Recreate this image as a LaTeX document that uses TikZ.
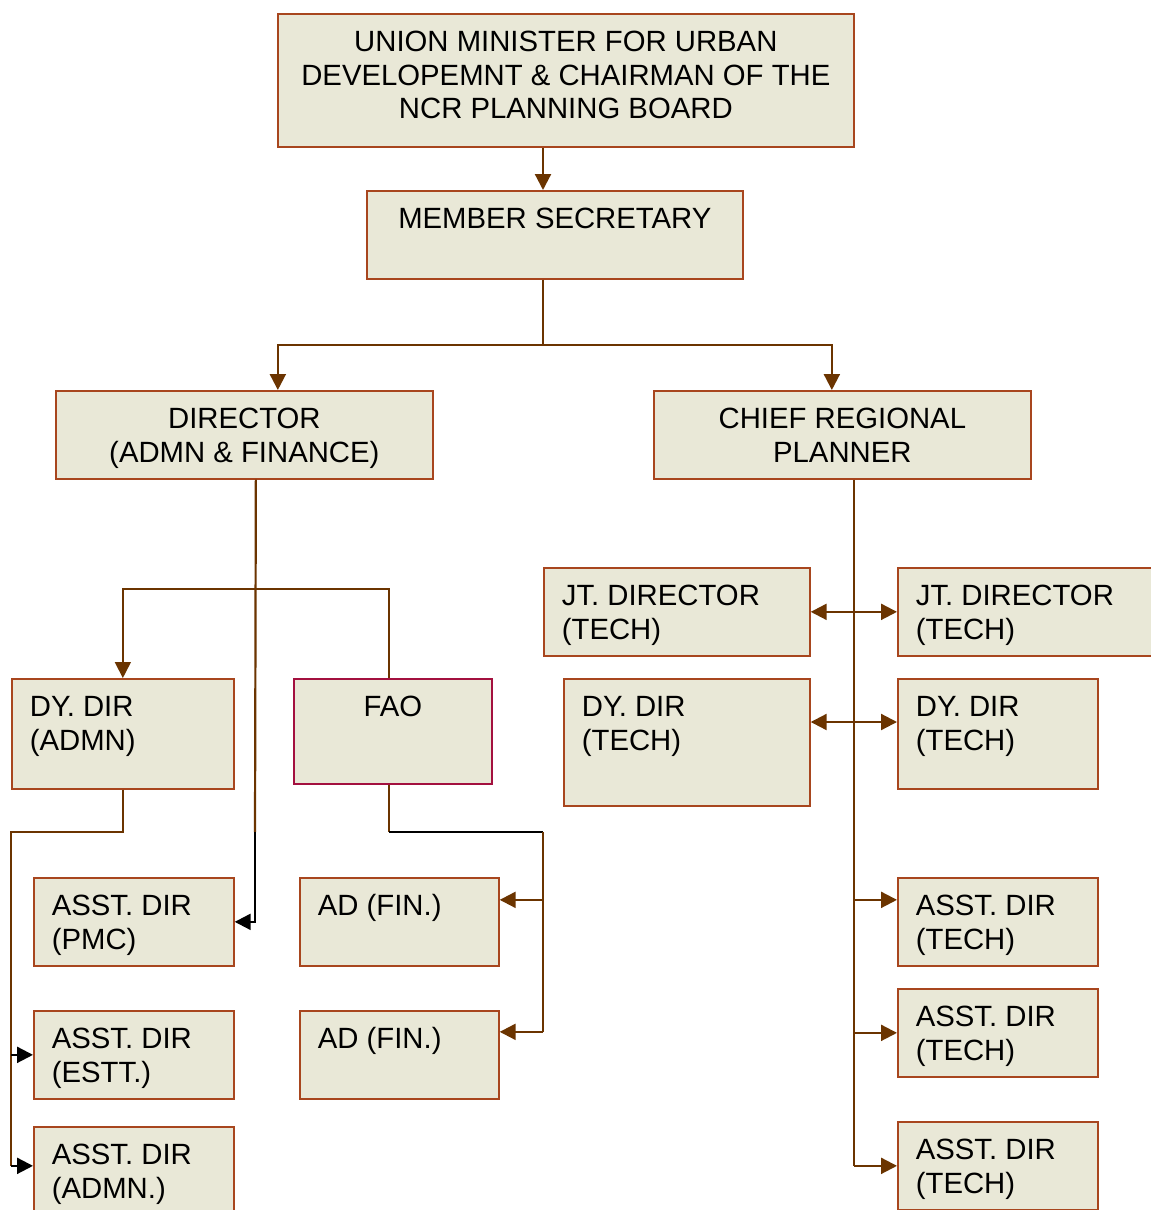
\documentclass[tikz,border=0pt]{standalone}
\usepackage{fontspec}
\setmainfont{Liberation Sans}
\usetikzlibrary{arrows.meta,calc}
\definecolor{boxfill}{HTML}{E9E8D7}
\definecolor{boxline}{HTML}{A8461E}
\definecolor{faoline}{HTML}{A3103F}
\definecolor{linkbrown}{HTML}{6B3400}
% box texts: width, height, lines
\newcommand{\cellL}[3]{\parbox[c][#2pt][t]{#1pt}{\raggedright\leftskip=18pt\rule{0pt}{37.5pt}#3}}
\newcommand{\cellC}[3]{\parbox[c][#2pt][t]{#1pt}{\centering\rule{0pt}{37.5pt}#3}}
\tikzset{
  orgbox/.style={draw=boxline, fill=boxfill, line width=1.7pt, inner sep=0pt, anchor=north west,
    font=\fontsize{29.3}{33.7}\selectfont},
  faobox/.style={orgbox, draw=faoline},
  link/.style={draw=linkbrown, line width=2.2pt},
  blackline/.style={draw=black, line width=2.2pt},
  tipped/.style={-{Triangle[length=16pt,width=16pt]}},
  bothtipped/.style={{Triangle[length=16pt,width=16pt]}-{Triangle[length=16pt,width=16pt]}}
}
\begin{document}
\begin{tikzpicture}[x=1pt,y=-1pt]
\useasboundingbox (0,0) rectangle (1151,1210);
\fill[white] (0,0) rectangle (1151,1210);
\clip (0,0) rectangle (1151,1210);
% boxes
\node[orgbox] (minister) at (277,13) {\cellC{576}{133}{UNION MINISTER FOR URBAN\\DEVELOPEMNT \& CHAIRMAN OF THE\\NCR PLANNING BOARD}};
\node[orgbox] (secretary) at (366,190) {\cellC{376}{88}{MEMBER SECRETARY}};
\node[orgbox] (director) at (55,390) {\cellC{377}{88}{DIRECTOR\\(ADMN \& FINANCE)}};
\node[orgbox] (crp) at (653,390) {\cellC{377}{88}{CHIEF REGIONAL\\PLANNER}};
\node[orgbox] (jtleft) at (543,567) {\cellL{266}{88}{JT. DIRECTOR\\(TECH)}};
\node[orgbox] (jtright) at (897,567) {\cellL{266}{88}{JT. DIRECTOR\\(TECH)}};
\node[orgbox] (dyadmn) at (11,678) {\cellL{222}{110}{DY. DIR\\(ADMN)}};
\node[faobox] (fao) at (293,678) {\cellC{198}{105}{FAO}};
\node[orgbox] (dytechleft) at (563,678) {\cellL{246}{127}{DY. DIR\\(TECH)}};
\node[orgbox] (dytechright) at (897,678) {\cellL{200}{110}{DY. DIR\\(TECH)}};
\node[orgbox] (adpmc) at (33,877) {\cellL{200}{88}{ASST. DIR\\(PMC)}};
\node[orgbox] (adfinA) at (299,877) {\cellL{199}{88}{AD (FIN.)}};
\node[orgbox] (adtechA) at (897,877) {\cellL{200}{88}{ASST. DIR\\(TECH)}};
\node[orgbox] (adestt) at (33,1010) {\cellL{200}{88}{ASST. DIR\\(ESTT.)}};
\node[orgbox] (adfinB) at (299,1010) {\cellL{199}{88}{AD (FIN.)}};
\node[orgbox] (adtechB) at (897,988) {\cellL{200}{88}{ASST. DIR\\(TECH)}};
\node[orgbox] (adadmn) at (33,1126) {\cellL{200}{88}{ASST. DIR\\(ADMN.)}};
\node[orgbox] (adtechC) at (897,1121) {\cellL{200}{88}{ASST. DIR\\(TECH)}};
% top levels
\coordinate (msjoin) at (543,345);
\draw[link,tipped] (minister.south -| msjoin) -- (secretary.north -| msjoin);
\draw[link] (secretary.south -| msjoin) -- (msjoin);
\draw[link,tipped] (msjoin) -| ([xshift=33.5pt]director.north);
\draw[link,tipped] (msjoin) -| ([xshift=-10.5pt]crp.north);
% director side
\coordinate (dirbend) at (255,832);
\coordinate (dirsplit) at (255,589);
\coordinate (faotop) at ([xshift=-4pt]fao.north);
\draw[link] ([xshift=11.5pt]director.south) -- (dirbend);
\draw[blackline,tipped] (dirbend) |- (adpmc.east);
\draw[link,line width=1.7pt,tipped] (faotop) |- (dyadmn.north |- dirsplit) -- (dyadmn.north);
% dy dir (admn)
\coordinate (admnbus) at (11,832);
\coordinate (admnend) at ([yshift=5pt]adadmn.west);
\draw[link] (dyadmn.south) |- (admnbus) -- (admnbus |- admnend);
\draw[blackline,tipped] (admnbus |- adestt.west) -- (adestt.west);
\draw[blackline,tipped] (admnbus |- admnend) -- (admnend);
% fao
\coordinate (faodrop) at ([xshift=-4pt]fao.south);
\coordinate (faobus) at (543,832);
\coordinate (finA) at ([yshift=22pt]adfinA.east);
\coordinate (finB) at ([yshift=23pt]adfinB.east);
\draw[link] (faodrop) -- (faodrop |- faobus);
\draw[blackline] (faodrop |- faobus) -- (faobus);
\draw[link] (faobus) -- (faobus |- finB);
\draw[link,tipped] (faobus |- finA) -- (finA);
\draw[link,tipped] (faobus |- finB) -- (finB);
% chief regional planner
\coordinate (crpdrop) at ([xshift=11.5pt]crp.south);
\coordinate (techA) at ([yshift=22pt]adtechA.west);
\coordinate (dyrow) at (0,722);
\draw[link] (crpdrop) -- (crpdrop |- adtechC.west);
\draw[link,tipped] (crpdrop |- techA) -- (techA);
\draw[link,tipped] (crpdrop |- adtechB.west) -- (adtechB.west);
\draw[link,tipped] (crpdrop |- adtechC.west) -- (adtechC.west);
\draw[link,bothtipped] (jtleft.east) -- (jtright.west);
\draw[link,bothtipped] (dytechleft.east |- dyrow) -- (dytechright.west |- dyrow);
\end{tikzpicture}
\end{document}
